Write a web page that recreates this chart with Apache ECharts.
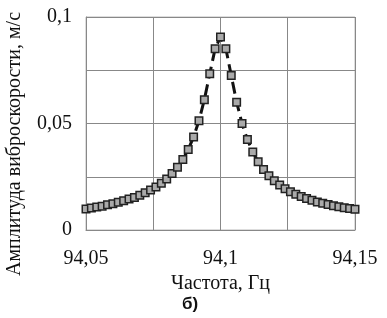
<!DOCTYPE html>
<html><head><meta charset="utf-8">
<script src="https://cdn.jsdelivr.net/npm/echarts@6/dist/echarts.min.js"></script>
<style>html,body{margin:0;padding:0;background:#fff}#c{width:387px;height:318px}</style>
</head><body><div id="c"></div>
<script>
var frequencies = [94.05,94.052,94.054,94.056,94.058,94.06,94.062,94.064,94.066,94.068,94.07,94.072,94.074,94.076,94.078,94.08,94.082,94.084,94.086,94.088,94.09,94.092,94.094,94.096,94.098,94.1,
94.102,94.104,94.106,94.108,94.11,94.112,94.114,94.116,94.118,94.12,94.122,94.124,94.126,94.128,94.13,94.132,94.134,94.136,94.138,94.14,94.142,94.144,94.146,94.148,94.15];
var amplitudes = [0.0099,0.0103,0.0108,0.0112,0.0118,0.0123,0.0130,0.0137,0.0145,0.0153,0.0163,0.0175,0.0188,0.0202,0.0220,0.0240,0.0265,0.0295,0.0331,0.0378,0.0437,0.0513,0.0612,0.0733,0.0851,0.0906,
0.0851,0.0725,0.0600,0.0500,0.0425,0.0366,0.0320,0.0284,0.0255,0.0231,0.0211,0.0194,0.0180,0.0168,0.0157,0.0148,0.0140,0.0132,0.0126,0.0120,0.0114,0.0109,0.0105,0.0101,0.0097];
var xTickLabels = ['94,05','94,1','94,15'];
var yTickLabels = ['0','0,05','0,1'];
var xAxisTitle = 'Частота, Гц';
var yAxisTitle = 'Амплитуда виброскорости, м/с';
var caption = 'б)';

var pts = frequencies.map(function(f,i){return [f, amplitudes[i]];});
var serif = '"Liberation Serif","Times New Roman",serif';
var chart = echarts.init(document.getElementById('c'), null, {renderer:'canvas'});
chart.setOption({
  animation:false,
  grid:{left:86,right:32,top:17,bottom:88,show:true,borderColor:'#bbb',borderWidth:1},
  xAxis:{type:'value',min:94.05,max:94.15,interval:0.025,
    axisLine:{show:true,lineStyle:{color:'#888'}},axisTick:{show:false},
    splitLine:{show:true,lineStyle:{color:'#888',width:1}},
    axisLabel:{margin:19,color:'#111',fontFamily:serif,fontSize:20,
      formatter:function(v){var k=Math.round((v-94.05)*1000);
        if(k===0)return xTickLabels[0]; if(k===50)return xTickLabels[1]; if(k===100)return xTickLabels[2]; return '';}},
    name:xAxisTitle,nameLocation:'middle',nameGap:36,
    nameTextStyle:{color:'#111',fontFamily:serif,fontSize:20}},
  yAxis:{type:'value',min:0,max:0.1,interval:0.025,
    axisLine:{show:true,lineStyle:{color:'#888'}},axisTick:{show:false},
    splitLine:{show:true,lineStyle:{color:'#888',width:1}},
    axisLabel:{margin:14,color:'#111',fontFamily:serif,fontSize:20,
      formatter:function(v){var k=Math.round(v*1000);
        if(k===0)return yTickLabels[0]; if(k===50)return yTickLabels[1]; if(k===100)return yTickLabels[2]; return '';}}},
  graphic:[
    {type:'text',x:15,y:144,rotation:Math.PI/2,
      style:{text:yAxisTitle,font:'20px '+serif,fill:'#111',textAlign:'center',textVerticalAlign:'middle'}},
    {type:'text',x:190,y:304,style:{text:caption,font:'bold 17px "Liberation Sans",Arial,sans-serif',fill:'#111',textAlign:'center',textVerticalAlign:'middle'}}
  ],
  series:[{type:'line',data:pts,symbol:'rect',symbolSize:7.5,showAllSymbol:true,
    lineStyle:{color:'#111',width:3,type:'dashed'},
    itemStyle:{color:'#aaa',borderColor:'#222',borderWidth:1.5}}]
});
</script></body></html>
